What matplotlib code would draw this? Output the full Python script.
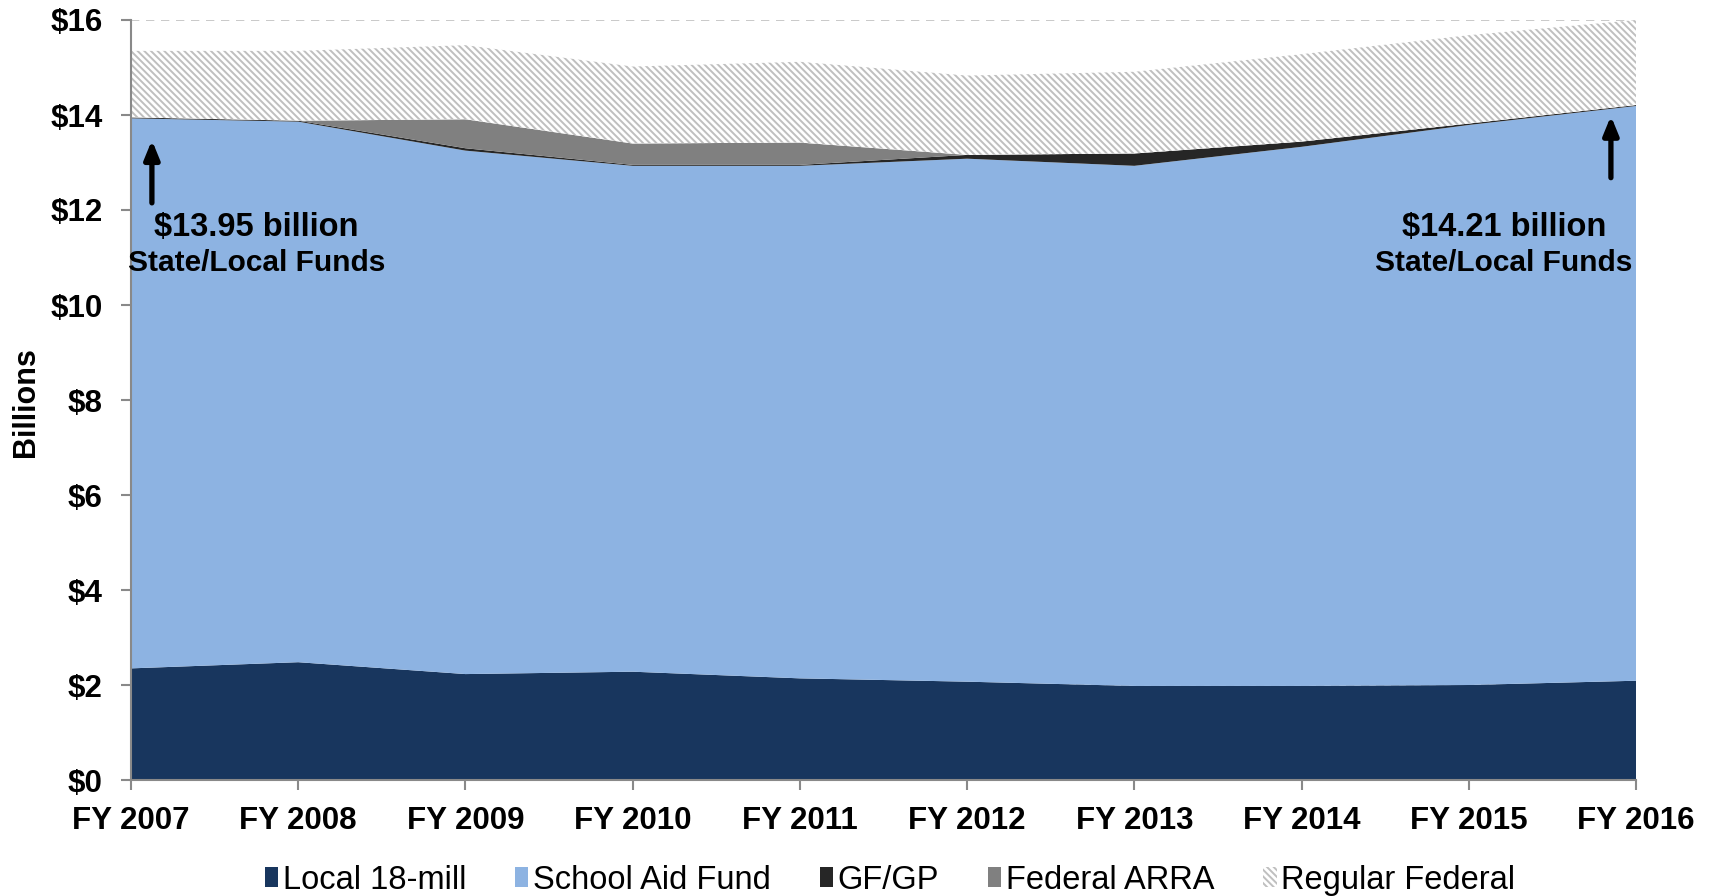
import matplotlib
matplotlib.use("Agg")
import matplotlib.pyplot as plt
from matplotlib.patches import Patch
import numpy as np

plt.rcParams['font.family'] = ['Liberation Sans', 'DejaVu Sans']
plt.rcParams['hatch.linewidth'] = 1.4
plt.rcParams['hatch.color'] = '#bfbfbf'

years = ["FY 2007", "FY 2008", "FY 2009", "FY 2010", "FY 2011",
         "FY 2012", "FY 2013", "FY 2014", "FY 2015", "FY 2016"]
local_18mill = [2.35, 2.48, 2.23, 2.28, 2.14, 2.07, 1.98, 1.98, 2.00, 2.09]
school_aid_fund = [11.58, 11.38, 11.02, 10.65, 10.79, 11.01, 10.95, 11.35, 11.79, 12.10]
gf_gp = [0.02, 0.02, 0.05, 0.02, 0.02, 0.08, 0.26, 0.11, 0.03, 0.02]
federal_arra = [0.0, 0.0, 0.61, 0.45, 0.47, 0.0, 0.0, 0.0, 0.0, 0.0]
regular_federal = [1.40, 1.47, 1.56, 1.62, 1.70, 1.67, 1.72, 1.84, 1.86, 1.79]

series_names = ["Local 18-mill", "School Aid Fund", "GF/GP", "Federal ARRA", "Regular Federal"]
colors = ["#18365e", "#8db3e2", "#262626", "#808080", "#ffffff"]
yticks = [0, 2, 4, 6, 8, 10, 12, 14, 16]
ytick_labels = ["$0", "$2", "$4", "$6", "$8", "$10", "$12", "$14", "$16"]

fig = plt.figure(figsize=(17.13, 8.96), dpi=100)
ax = fig.add_axes([131/1713, 1-780/896, (1636-131)/1713, (780-20)/896])

x = np.arange(len(years))
polys = ax.stackplot(x, local_18mill, school_aid_fund, gf_gp, federal_arra,
                     regular_federal, colors=colors, linewidth=0, zorder=2)
polys[-1].set_hatch('\\\\\\\\\\')
polys[-1].set_edgecolor('#bfbfbf')
polys[-1].set_linewidth(0)

ax.set_xlim(0, len(years) - 1)
ax.set_ylim(0, 16)
ax.set_yticks(yticks)
ax.set_yticklabels(ytick_labels, fontsize=22.5, fontweight='bold')
ax.set_xticks(x)
ax.set_xticklabels(years, fontsize=22.5, fontweight='bold')
ax.yaxis.grid(True, linestyle=(0, (5, 4)), color='#c0c0c0', linewidth=1.2)
ax.set_axisbelow(True)
for s in ['top', 'right']:
    ax.spines[s].set_visible(False)
for s in ['left', 'bottom']:
    ax.spines[s].set_color('#898989')
    ax.spines[s].set_linewidth(1.5)
    ax.spines[s].set_zorder(5)
ax.tick_params(axis='both', direction='out', length=7, width=1.5, color='#898989')
ax.tick_params(axis='y', pad=13.5)
ax.tick_params(axis='x', pad=12)
ax.set_ylabel("Billions", fontsize=22, fontweight='bold')
ax.yaxis.set_label_coords(-0.0600, 0.497)

arrow_props = dict(arrowstyle='-|>,head_width=0.45,head_length=1.1', lw=3.8,
                   color='black', shrinkA=0, shrinkB=0)
ax.annotate("", xy=(0.125, 13.47), xytext=(0.125, 12.15), arrowprops=arrow_props, zorder=6)
ax.text(0.75, 11.64, "$13.95 billion", ha='center', va='center', fontsize=23.5, fontweight='bold', zorder=6)
ax.text(0.75, 10.88, "State/Local Funds", ha='center', va='center', fontsize=21.5, fontweight='bold', zorder=6)

ax.annotate("", xy=(8.85, 13.98), xytext=(8.85, 12.68), arrowprops=arrow_props, zorder=6)
ax.text(8.21, 11.64, "$14.21 billion", ha='center', va='center', fontsize=23.5, fontweight='bold', zorder=6)
ax.text(8.21, 10.88, "State/Local Funds", ha='center', va='center', fontsize=21.5, fontweight='bold', zorder=6)

handles = []
for name, c in zip(series_names, colors):
    if name == "Regular Federal":
        handles.append(Patch(facecolor='white', edgecolor='#bfbfbf', hatch='\\\\\\\\\\', linewidth=0, label=name))
    else:
        handles.append(Patch(facecolor=c, edgecolor='none', label=name))
fig.legend(handles=handles, loc='center', bbox_to_anchor=(890/1713, 1-880/896), ncol=5,
           frameon=False, fontsize=23.5, handlelength=0.4, handleheight=0.6,
           handletextpad=0.15, columnspacing=1.5)

fig.savefig("out.png", dpi=100)
